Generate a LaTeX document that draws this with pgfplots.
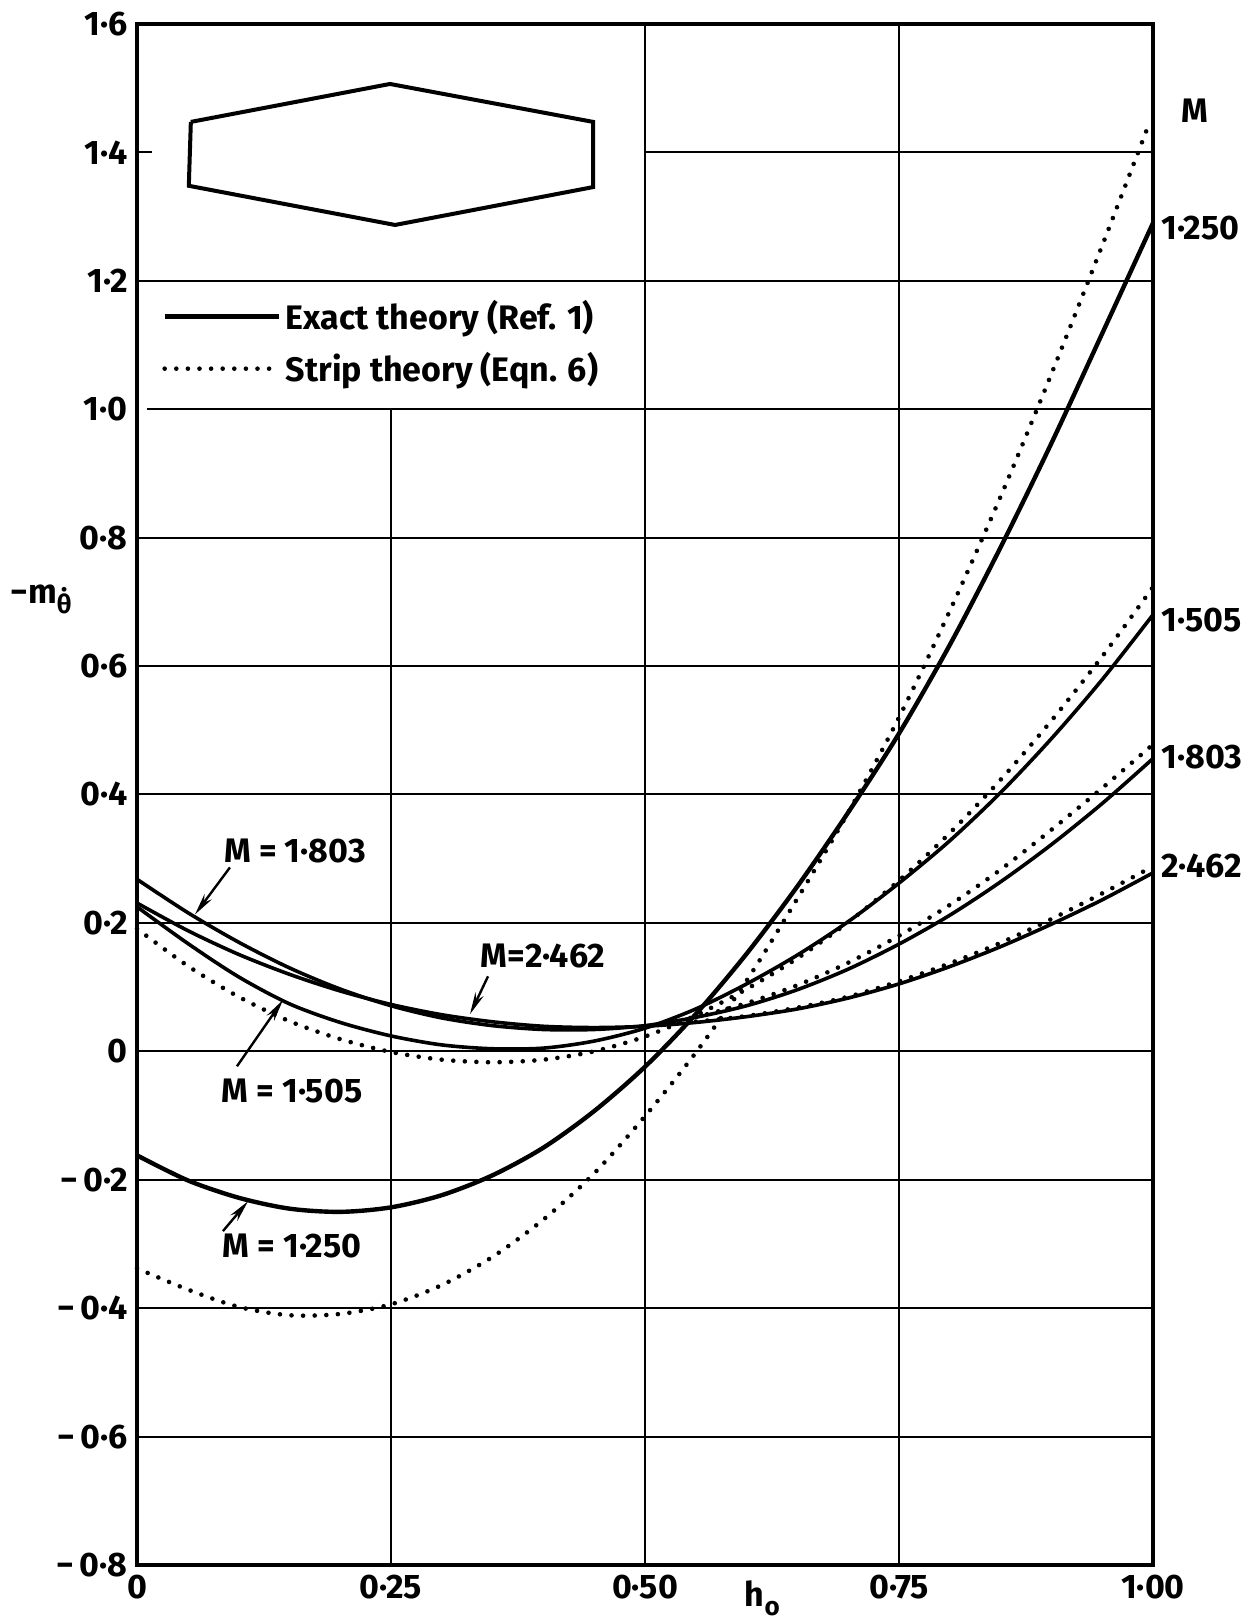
\documentclass[border=0pt]{standalone}
\usepackage{pgfplots}
\pgfplotsset{compat=1.18}
\usepackage{fontspec}
\setmainfont{Fira Sans}
\usetikzlibrary{arrows.meta,calc}

\pgfplotsset{
  exact/.style={line width=1.8pt, smooth, tension=0.5, black},
  strip/.style={line width=2.3pt, smooth, tension=0.5, black, line cap=round, dash pattern=on 0pt off 5.8pt},
}

\begin{document}
\begin{tikzpicture}[font=\fontsize{17}{20}\selectfont\bfseries]
\begin{axis}[
  scale only axis, width=508pt, height=770.5pt,
  xmin=0, xmax=1, ymin=-0.8, ymax=1.6,
  axis line style={line width=1.8pt},
  xtick={0,0.25,0.5,0.75,1},
  xticklabels={0,0·25,0·50,0·75,1·00},
  ytick={-0.8,-0.6,-0.4,-0.2,0,0.2,0.4,0.6,0.8,1.0,1.2,1.4,1.6},
  yticklabels={{−\,0·8},{−\,0·6},{−\,0·4},{−\,0·2},0,0·2,0·4,0·6,0·8,1·0,1·2,1·4,1·6},
  major tick length=0pt,
  xticklabel style={inner sep=0pt, anchor=north, yshift=-5pt},
  yticklabel style={inner sep=0pt, anchor=east, xshift=-4.5pt},
  clip=false,
  legend style={draw=none, fill=none, at={(axis cs:0.0246,1.1780)}, anchor=north west,
    inner sep=0pt, row sep=5pt, cells={anchor=west}, nodes={inner sep=2.5pt}},
  legend image code/.code={\draw[#1] (0pt,0pt) -- (57pt,0pt);},
]
% grid
\draw[line width=1pt] (axis cs:0,1.2) -- (axis cs:1,1.2);
\draw[line width=1pt] (axis cs:0.5,1.4) -- (axis cs:1,1.4);
\draw[line width=1pt] (axis cs:0,1.4) -- (axis cs:0.015,1.4);
\draw[line width=1pt] (axis cs:0.01,1.0) -- (axis cs:1,1.0);
\pgfplotsinvokeforeach{0.8,0.6,0.4,0.2,0,-0.2,-0.4,-0.6}{
  \draw[line width=1pt] (axis cs:0,#1) -- (axis cs:1,#1);
}
\draw[line width=1pt] (axis cs:0.25,-0.8) -- (axis cs:0.25,1.0);
\draw[line width=1pt] (axis cs:0.5,-0.8) -- (axis cs:0.5,1.6);
\draw[line width=1pt] (axis cs:0.75,-0.8) -- (axis cs:0.75,1.6);

% hexagon (planform)
\addplot[line width=2pt, black, forget plot] coordinates {
  (0.053,1.4475) (0.249,1.5066) (0.449,1.4475) (0.449,1.346) (0.254,1.287) (0.051,1.348) (0.053,1.4475)};

% M = 1.250 exact
\addplot[exact, line width=2.2pt] coordinates {
 (0,-0.162) (0.05,-0.201) (0.1,-0.228) (0.15,-0.245) (0.2,-0.250) (0.25,-0.243)
 (0.3,-0.224) (0.35,-0.193) (0.4,-0.150) (0.45,-0.093) (0.5,-0.024) (0.55,0.058)
 (0.6,0.152) (0.65,0.257) (0.7,0.372) (0.75,0.495) (0.8,0.633) (0.85,0.785)
 (0.9,0.947) (0.95,1.118) (1.0,1.290)};
\addlegendentry{Exact theory (Ref. 1)}
% M = 1.250 strip
\addplot[strip] coordinates {
 (0,-0.338) (0.05,-0.371) (0.1,-0.398) (0.15,-0.411) (0.2,-0.409) (0.25,-0.394)
 (0.3,-0.364) (0.35,-0.320) (0.4,-0.262) (0.45,-0.190) (0.5,-0.101) (0.55,-0.002)
 (0.6,0.110) (0.65,0.238) (0.7,0.372) (0.75,0.520) (0.8,0.686) (0.85,0.864)
 (0.9,1.055) (0.95,1.255) (0.995,1.440)};
\addlegendentry{Strip theory (Eqn. 6)}

% M = 1.505
\addplot[exact, forget plot] coordinates {
 (0,0.225) (0.05,0.168) (0.1,0.116) (0.15,0.074) (0.2,0.045) (0.25,0.024)
 (0.3,0.010) (0.35,0.004) (0.4,0.005) (0.45,0.016) (0.5,0.036) (0.55,0.066)
 (0.6,0.105) (0.65,0.150) (0.7,0.202) (0.75,0.262) (0.8,0.328) (0.85,0.403)
 (0.9,0.487) (0.95,0.579) (1.0,0.680)};
\addplot[strip, forget plot] coordinates {
 (0,0.191) (0.05,0.133) (0.1,0.085) (0.15,0.047) (0.2,0.019) (0.25,-0.001)
 (0.3,-0.013) (0.35,-0.017) (0.4,-0.013) (0.45,0.000) (0.5,0.023) (0.55,0.056)
 (0.6,0.097) (0.65,0.145) (0.7,0.201) (0.75,0.266) (0.8,0.340) (0.85,0.423)
 (0.9,0.515) (0.95,0.615) (1.0,0.723)};

% M = 1.803
\addplot[exact, forget plot] coordinates {
 (0,0.268) (0.05,0.216) (0.1,0.170) (0.15,0.130) (0.2,0.097) (0.25,0.071)
 (0.3,0.052) (0.35,0.040) (0.4,0.034) (0.45,0.034) (0.5,0.040) (0.55,0.053)
 (0.6,0.071) (0.65,0.096) (0.7,0.128) (0.75,0.167) (0.8,0.212) (0.85,0.264)
 (0.9,0.322) (0.95,0.386) (1.0,0.456)};
\addplot[strip, forget plot] coordinates {
 (0.55,0.053) (0.6,0.075) (0.65,0.103) (0.7,0.138) (0.75,0.180) (0.8,0.228)
 (0.85,0.283) (0.9,0.345) (0.95,0.410) (1.0,0.478)};

% M = 2.462
\addplot[exact, forget plot] coordinates {
 (0,0.231) (0.05,0.188) (0.1,0.151) (0.15,0.120) (0.2,0.094) (0.25,0.073)
 (0.3,0.057) (0.35,0.046) (0.4,0.039) (0.45,0.037) (0.5,0.039) (0.55,0.045)
 (0.6,0.054) (0.65,0.066) (0.7,0.083) (0.75,0.105) (0.8,0.132) (0.85,0.163)
 (0.9,0.198) (0.95,0.236) (1.0,0.278)};
\addplot[strip, forget plot] coordinates {
 (0.55,0.046) (0.6,0.055) (0.65,0.068) (0.7,0.085) (0.75,0.109) (0.8,0.137)
 (0.85,0.169) (0.9,0.206) (0.95,0.246) (1.0,0.288)};

% curve labels
\node at (axis cs:0.1555,0.3113) {M = 1·803};
\draw[line width=1.2pt,-{Stealth[length=11pt,width=4.5pt]}] (axis cs:0.0915,0.2864) -- (axis cs:0.0571,0.2132);
\node at (axis cs:0.1526,-0.0623) {M = 1·505};
\draw[line width=1.2pt,-{Stealth[length=11pt,width=4.5pt]}] (axis cs:0.0984,-0.0233) -- (axis cs:0.1437,0.0800);
\node at (axis cs:0.1526,-0.3035) {M = 1·250};
\draw[line width=1.2pt,-{Stealth[length=11pt,width=4.5pt]}] (axis cs:0.0846,-0.280) -- (axis cs:0.1093,-0.2335);
\node at (axis cs:0.3996,0.148) {M=2·462};
\draw[line width=1.2pt,-{Stealth[length=11pt,width=4.5pt]}] (axis cs:0.3455,0.1168) -- (axis cs:0.3278,0.058);

% right-hand labels
\node[anchor=center, xshift=21pt] at (axis cs:1,1.465) {M};
\node[anchor=west, inner sep=0pt, xshift=4pt] at (axis cs:1,1.2825) {1·250};
\node[anchor=west, inner sep=0pt, xshift=4pt] at (axis cs:1,0.671) {1·505};
\node[anchor=west, inner sep=0pt, xshift=4pt] at (axis cs:1,0.459) {1·803};
\node[anchor=west, inner sep=0pt, xshift=4pt] at (axis cs:1,0.288) {2·462};

% axis labels
\node[anchor=west, inner sep=0pt, xshift=-63.5pt] at (axis cs:0,0.7035) {−m\raisebox{-0.55ex}{\fontsize{13}{14}\selectfont\.{θ}}};
\node[anchor=north west, inner sep=0pt, yshift=-7.5pt] at (axis cs:0.598,-0.8) {h\raisebox{-0.5ex}{\fontsize{13}{14}\selectfont o}};
\end{axis}
\pgfresetboundingbox
\path ($(current axis.south west)+(-68.5pt,-28.5pt)$) rectangle ($(current axis.north east)+(48pt,12pt)$);
\end{tikzpicture}
\end{document}
